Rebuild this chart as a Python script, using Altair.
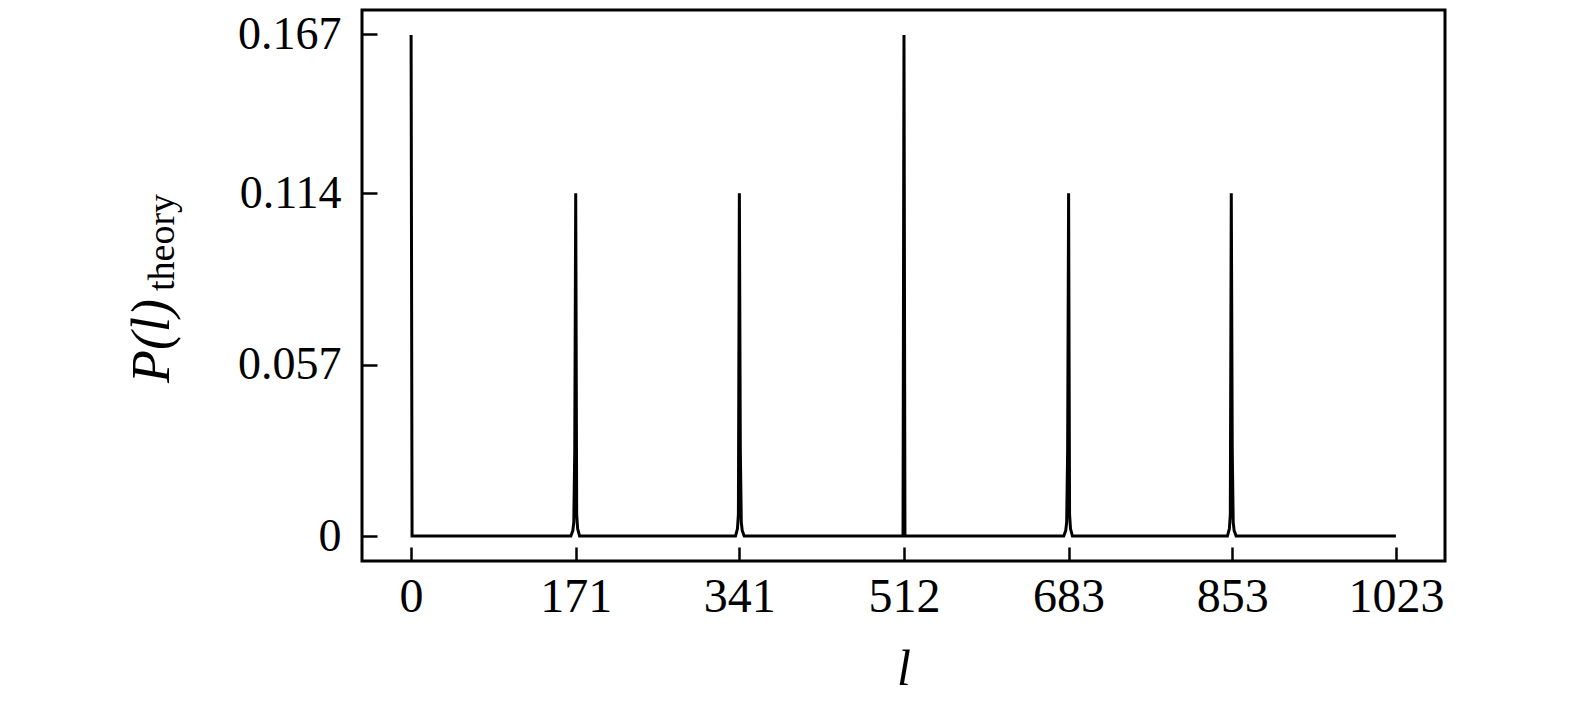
import altair as alt
import pandas as pd

# Data: sharp peaks of P(l)_theory
l_vals = [0, 1, 2,
          166, 167, 168, 169, 170, 171, 172, 173, 174, 175,
          337, 338, 339, 340, 341, 342, 343, 344, 345, 346,
          510, 511, 512, 513, 514,
          678, 679, 680, 681, 682, 683, 684, 685, 686, 687,
          848, 849, 850, 851, 852, 853, 854, 855, 856, 857,
          1023]
p_vals = [0.1667, 0.0, 0.0,
          0.0, 0.0009, 0.0018, 0.0045, 0.0284, 0.114, 0.0072, 0.0024, 0.0012, 0.0,
          0.0, 0.0012, 0.0024, 0.0072, 0.114, 0.0284, 0.0045, 0.0018, 0.0009, 0.0,
          0.0, 0.0, 0.1667, 0.0, 0.0,
          0.0, 0.0009, 0.0018, 0.0045, 0.0284, 0.114, 0.0072, 0.0024, 0.0012, 0.0,
          0.0, 0.0012, 0.0024, 0.0072, 0.114, 0.0284, 0.0045, 0.0018, 0.0009, 0.0,
          0.0]
x_ticks = [0, 171, 341, 512, 683, 853, 1023]
y_ticks = [0, 0.057, 0.114, 0.167]

df = pd.DataFrame({"l": l_vals, "P": p_vals})

FONT = "Liberation Serif"

line = alt.Chart(df).mark_line(color="black", strokeWidth=3).encode(
    x=alt.X("l:Q",
            scale=alt.Scale(domain=[-51, 1074], nice=False, zero=False),
            axis=alt.Axis(values=x_ticks, title="l", format="d",
                          titleFontStyle="italic",
                          titleFontWeight="normal", titleFont=FONT, titleFontSize=50,
                          titlePadding=23, titleColor="black",
                          labelFont=FONT, labelFontSize=48, labelColor="black",
                          labelPadding=12, offset=-14, tickSize=14, tickWidth=2.5,
                          tickColor="black", domain=False, grid=False,
                          labelFlush=False, labelOverlap=False)),
    y=alt.Y("P:Q",
            scale=alt.Scale(domain=[-0.0083, 0.175], nice=False, zero=False),
            axis=alt.Axis(values=y_ticks, title=None, format=".3~f",
                          labelFont=FONT, labelFontSize=46, labelColor="black",
                          labelPadding=21, offset=-15, tickSize=15, tickWidth=2.5,
                          tickColor="black", domain=False, grid=False,
                          labelFlush=False, labelOverlap=False)),
)

title_main = alt.Chart(pd.DataFrame({"t": ["P(l)"]})).mark_text(
    angle=270, align="left", baseline="alphabetic", font=FONT,
    fontSize=54, fontStyle="italic", color="black"
).encode(text="t:N", x=alt.value(-193), y=alt.value(373))

title_sub = alt.Chart(pd.DataFrame({"t": ["theory"]})).mark_text(
    angle=270, align="left", baseline="alphabetic", font=FONT,
    fontSize=38, color="black"
).encode(text="t:N", x=alt.value(-188), y=alt.value(281))

chart = alt.layer(line, title_main, title_sub).properties(
    width=1083, height=551,
    autosize=alt.AutoSizeParams(type="none"),
    padding={"left": 354, "top": 2, "right": 110, "bottom": 142},
).configure_view(stroke="black", strokeWidth=3)

chart.save("out.html", embed_options={"renderer": "svg", "actions": False})
